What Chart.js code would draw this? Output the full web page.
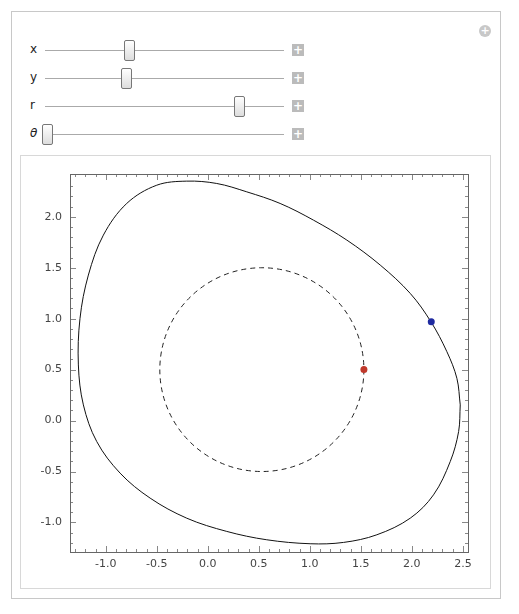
<!DOCTYPE html>
<html><head><meta charset="utf-8">
<script src="https://cdn.jsdelivr.net/npm/chart.js@4/dist/chart.umd.min.js"></script>
<style>
body{margin:0;background:#fff;font-family:"DejaVu Sans",sans-serif;}
.outer{position:absolute;left:11px;top:11px;width:488px;height:586px;border:1px solid #c8c8c8;}
.inner{position:absolute;left:20px;top:155px;width:469px;height:432px;border:1px solid #d8d8d8;}
.lab{position:absolute;left:30px;font-size:12px;color:#222;}
.track{position:absolute;left:45px;width:239px;height:1px;background:#aaa;}
.thumb{position:absolute;width:9px;height:19px;border:1px solid #777;border-radius:2px;background:linear-gradient(#fff,#ddd);}
.plus{position:absolute;left:292px;width:12px;height:12px;background:#bbb;color:#fff;font-size:12px;line-height:12px;text-align:center;font-weight:bold;}
.cp{position:absolute;left:479px;top:25px;width:12px;height:12px;border-radius:50%;background:#c8c8c8;color:#fff;font-size:11px;line-height:12px;text-align:center;font-weight:bold;}
#wrap{position:absolute;left:21px;top:156px;width:468px;height:431px;}
</style></head><body>
<div class="outer"></div>
<div class="cp">+</div>
<div id="sl"></div>
<div class="inner"></div>
<div id="wrap"><canvas id="c"></canvas></div>
<script>
const sliderNames=["x","y","r","θ"];
const sliderPos=[0.35,0.34,0.81,0.01];
const curveX=[2.474,2.458,2.376,2.212,1.984,1.657,1.330,1.003,0.578,0.186,-0.206,-0.565,-0.859,-1.088,-1.219,-1.268,-1.252,-1.170,-1.023,-0.794,-0.500,-0.206,0.088,0.382,0.709,1.036,1.363,1.690,1.984,2.186,2.343,2.441,2.474];
const curveY=[0.154,-0.108,-0.402,-0.729,-0.958,-1.121,-1.196,-1.209,-1.170,-1.088,-0.958,-0.761,-0.516,-0.206,0.154,0.546,1.003,1.428,1.820,2.131,2.310,2.350,2.327,2.245,2.131,1.967,1.771,1.526,1.248,0.971,0.676,0.415,0.154];
const circleCenter=[0.53,0.5];
const circleRadius=[1.0];
const redPoint=[1.53,0.5];
const bluePoint=[2.19,0.97];
const xTicks=[-1.0,-0.5,0.0,0.5,1.0,1.5,2.0,2.5];
const yTicks=[-1.0,-0.5,0.0,0.5,1.0,1.5,2.0];

const sl=document.getElementById('sl');
sliderNames.forEach((n,i)=>{
  const y=50+28*i;
  sl.innerHTML+=`<div class="lab" style="top:${y-8}px;${n==='θ'?'font-style:italic;':''}">${n}</div>
  <div class="track" style="top:${y}px"></div>
  <div class="thumb" style="top:${y-10}px;left:${45+sliderPos[i]*239-5}px"></div>
  <div class="plus" style="top:${y-6}px">+</div>`;
});

const extras={id:'extras',
 afterDatasetsDraw(ch){
  const {ctx,scales:{x,y}}=ch;
  ctx.save();
  const cx=x.getPixelForValue(circleCenter[0]),cy=y.getPixelForValue(circleCenter[1]);
  const rx=x.getPixelForValue(circleCenter[0]+circleRadius[0])-cx;
  const ry=cy-y.getPixelForValue(circleCenter[1]+circleRadius[0]);
  ctx.setLineDash([5,4]);ctx.strokeStyle='#222';ctx.lineWidth=1;
  ctx.beginPath();ctx.ellipse(cx,cy,rx,ry,0,0,Math.PI*2);ctx.stroke();
  ctx.setLineDash([]);
  [[redPoint,'#c0392b'],[bluePoint,'#1f2aa0']].forEach(([p,c])=>{
    ctx.fillStyle=c;ctx.beginPath();ctx.arc(x.getPixelForValue(p[0]),y.getPixelForValue(p[1]),3.5,0,Math.PI*2);ctx.fill();
  });
  const a=ch.chartArea;ctx.strokeStyle='#888';ctx.lineWidth=1;
  ctx.beginPath();
  for(let v=-1.3;v<=2.55;v+=0.1){const p=Math.round(x.getPixelForValue(v))+0.5;const maj=Math.abs(v*2-Math.round(v*2))<1e-6;const L=maj?6:3;
    ctx.moveTo(p,a.bottom);ctx.lineTo(p,a.bottom-L);ctx.moveTo(p,a.top);ctx.lineTo(p,a.top+L);}
  for(let v=-1.2;v<=2.4;v+=0.1){const p=Math.round(y.getPixelForValue(v))+0.5;const maj=Math.abs(v*2-Math.round(v*2))<1e-6;const L=maj?6:3;
    ctx.moveTo(a.left,p);ctx.lineTo(a.left+L,p);ctx.moveTo(a.right,p);ctx.lineTo(a.right-L,p);}
  ctx.stroke();
  ctx.strokeStyle='#666';ctx.strokeRect(a.left+0.5,a.top+0.5,a.right-a.left,a.bottom-a.top);
  ctx.restore();
 }};

new Chart(document.getElementById('c'),{
 type:'scatter',
 data:{datasets:[{data:curveX.map((v,i)=>({x:v,y:curveY[i]})),showLine:true,borderColor:'#111',borderWidth:1,pointRadius:0,tension:0.35,fill:false}]},
 options:{responsive:true,maintainAspectRatio:false,animation:false,
  layout:{padding:{top:18,right:21,left:0,bottom:0}},
  plugins:{legend:{display:false},tooltip:{enabled:false}},
  scales:{
   x:{type:'linear',min:-1.35,max:2.55,afterBuildTicks(s){s.ticks=xTicks.map(v=>({value:v}));},
      afterFit(s){s.height=35;},
      grid:{display:false,drawTicks:false},border:{display:false},
      ticks:{color:'#444',font:{family:'DejaVu Sans',size:11},padding:6,maxRotation:0,callback:v=>v.toFixed(1)}},
   y:{type:'linear',min:-1.29,max:2.42,afterBuildTicks(s){s.ticks=yTicks.map(v=>({value:v}));},
      afterFit(s){s.width=49;},
      grid:{display:false,drawTicks:false},border:{display:false},
      ticks:{color:'#444',font:{family:'DejaVu Sans',size:11},padding:8,callback:v=>v.toFixed(1)}}
  }},
 plugins:[extras]
});
</script></body></html>
